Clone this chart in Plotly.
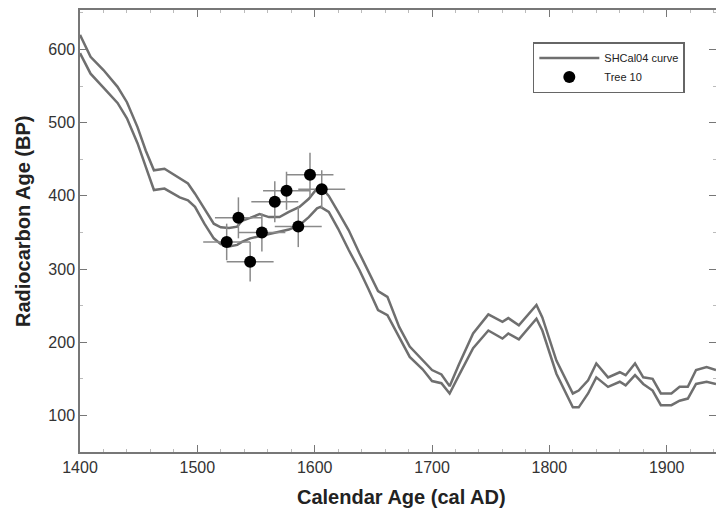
import plotly.graph_objects as go

# SHCal04 calibration curve (upper and lower 1-sigma envelope)
curve_years = [1400, 1409, 1420, 1432, 1440, 1449, 1456, 1463, 1472, 1479, 1485, 1492, 1498,
               1506, 1514, 1520, 1527, 1534, 1538, 1545, 1553, 1561, 1570, 1578, 1587, 1595,
               1602, 1605, 1612, 1620, 1629, 1638, 1646, 1654, 1662, 1672, 1681, 1692, 1700,
               1708, 1715, 1723, 1735, 1748, 1760, 1765, 1774, 1789, 1794, 1806, 1820, 1825,
               1833, 1840, 1850, 1860, 1865, 1873, 1880, 1888, 1895, 1904, 1911, 1918, 1925,
               1934, 1942]
curve_upper = [620, 590, 572, 549, 528, 494, 462, 435, 437, 430, 423, 417, 403,
               383, 362, 357, 356, 358, 366, 370, 375, 371, 371, 378, 385, 396,
               410, 413, 400, 378, 353, 322, 297, 270, 262, 221, 194, 175, 162,
               156, 140, 170, 212, 238, 228, 233, 223, 251, 234, 175, 130, 134,
               148, 171, 152, 159, 155, 171, 152, 150, 130, 130, 139, 139, 162,
               166, 162]
curve_lower = [595, 567, 548, 527, 506, 472, 440, 408, 410, 403, 398, 394, 385,
               362, 342, 334, 331, 333, 337, 342, 345, 348, 351, 354, 360, 371,
               383, 385, 378, 355, 326, 299, 272, 244, 237, 207, 180, 163, 147,
               144, 130, 155, 192, 216, 205, 212, 204, 232, 216, 157, 111, 111,
               130, 152, 139, 146, 141, 155, 143, 134, 114, 114, 120, 123, 143,
               146, 143]

# Tree 10 measurements
tree_years = [1525, 1535, 1545, 1555, 1566, 1576, 1586, 1596, 1606]
tree_ages = [337, 370, 310, 350, 392, 407, 358, 429, 409]
tree_year_err = [20, 20, 20, 20, 20, 20, 20, 20, 20]
tree_age_err = [25, 28, 27, 26, 28, 26, 28, 30, 26]

x_ticks = [1400, 1500, 1600, 1700, 1800, 1900]
y_ticks = [100, 200, 300, 400, 500, 600]

FONT = "Liberation Sans, Arial, sans-serif"
CURVE_COLOR = "#6f6f6f"

fig = go.Figure()
fig.add_trace(go.Scatter(x=curve_years, y=curve_upper, mode="lines",
                         line=dict(color=CURVE_COLOR, width=2.5),
                         name="SHCal04 curve", showlegend=True))
fig.add_trace(go.Scatter(x=curve_years, y=curve_lower, mode="lines",
                         line=dict(color=CURVE_COLOR, width=2.5),
                         name="SHCal04 curve", showlegend=False))
fig.add_trace(go.Scatter(x=tree_years, y=tree_ages, mode="markers",
                         marker=dict(color="black", size=12),
                         error_x=dict(type="data", array=tree_year_err, color="#8a8a8a",
                                      thickness=1.5, width=0),
                         error_y=dict(type="data", array=tree_age_err, color="#8a8a8a",
                                      thickness=1.5, width=0),
                         name="Tree 10"))

axis_common = dict(showgrid=False, zeroline=False, showline=True, linecolor="#777",
                   linewidth=1.5, mirror="allticks", ticks="inside", ticklen=7,
                   tickcolor="#777", tickwidth=1.2, automargin=False,
                   tickfont=dict(family=FONT, size=16, color="#333"))

fig.update_xaxes(range=[1400, 1942], tickvals=x_ticks, autorange=False,
                 minor=dict(dtick=20, ticks="inside", ticklen=3, tickcolor="#bbb"),
                 **axis_common)
fig.update_yaxes(range=[50, 654], tickvals=y_ticks, autorange=False,
                 minor=dict(dtick=50, ticks="inside", ticklen=3, tickcolor="#bbb"),
                 **axis_common)

fig.add_annotation(text="<b>Calendar Age (cal AD)</b>", xref="paper", yref="paper",
                   x=0.506, y=-0.101, xanchor="center", yanchor="middle", showarrow=False,
                   font=dict(family=FONT, size=20, color="#222"))
fig.add_annotation(text="<b>Radiocarbon Age (BP)</b>", xref="paper", yref="paper",
                   x=-0.0896, y=0.5226, xanchor="center", yanchor="middle", showarrow=False,
                   textangle=-90, font=dict(family=FONT, size=20, color="#222"))

fig.update_layout(
    width=716, height=511,
    margin=dict(l=80, r=0, t=10, b=59, autoexpand=False),
    paper_bgcolor="white", plot_bgcolor="white",
    legend=dict(x=0.712, y=0.9276, xanchor="left", yanchor="top",
                bgcolor="white", bordercolor="#666", borderwidth=1.5,
                itemwidth=60, tracegroupgap=0,
                font=dict(family=FONT, size=11, color="#222")),
)

fig.write_html("out.html")
